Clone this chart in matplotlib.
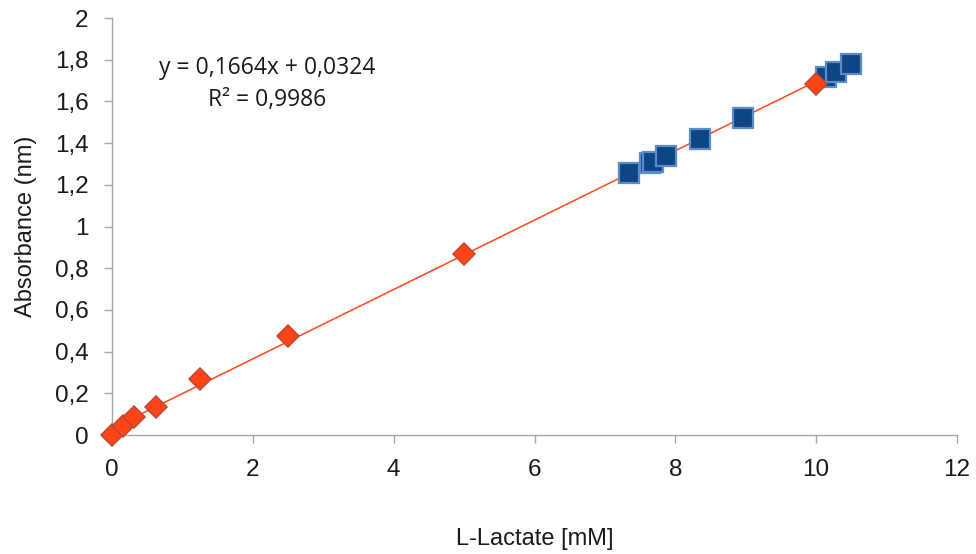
import matplotlib
matplotlib.use("Agg")
import matplotlib.pyplot as plt
from matplotlib.ticker import FuncFormatter
import numpy as np

# Standard curve (diamonds)
std_conc = [0, 0.156, 0.3125, 0.625, 1.25, 2.5, 5, 10]
std_abs = [0.0, 0.043, 0.086, 0.134, 0.268, 0.475, 0.868, 1.683]

# Samples (squares)
smp_conc = [7.34, 7.64, 7.68, 7.87, 8.35, 8.96, 10.14, 10.28, 10.49]
smp_abs = [1.257, 1.303, 1.309, 1.338, 1.420, 1.520, 1.717, 1.741, 1.779]

# Linear trendline of the standard curve
slope = 0.1664
intercept = 0.0324
r2 = 0.9986

x_ticks = [0, 2, 4, 6, 8, 10, 12]
y_ticks = [0, 0.2, 0.4, 0.6, 0.8, 1.0, 1.2, 1.4, 1.6, 1.8, 2.0]

plt.rcParams['font.family'] = ['Liberation Sans', 'DejaVu Sans']

fig = plt.figure(figsize=(9.76, 5.54), dpi=100)
ax = fig.add_axes([0.1148, 0.2148, 0.8657, 0.7527])

fit_x = np.array([min(std_conc), max(std_conc)])
ax.plot(fit_x, slope * fit_x + intercept, color='#ff4a1a', lw=1.1, zorder=2)

ax.plot(smp_conc, smp_abs, ls='none', marker='s', markersize=14,
        markerfacecolor='#0d4585', markeredgecolor='#5b8bc8', markeredgewidth=1.6,
        zorder=3, clip_on=False)
ax.plot(std_conc, std_abs, ls='none', marker='D', markersize=11.5,
        markerfacecolor='#ff4515', markeredgecolor='#c0463a', markeredgewidth=1.1,
        zorder=4, clip_on=False)

ax.set_xlim(0, 12)
ax.set_ylim(0, 2)
ax.set_xticks(x_ticks)
ax.set_yticks(y_ticks)
comma = FuncFormatter(lambda v, p: ('%g' % round(v, 2)).replace('.', ','))
ax.xaxis.set_major_formatter(comma)
ax.yaxis.set_major_formatter(comma)

for s in ['top', 'right']:
    ax.spines[s].set_visible(False)
for s in ['left', 'bottom']:
    ax.spines[s].set_color('#a6a6a6')
    ax.spines[s].set_linewidth(1.0)
ax.tick_params(axis='both', colors='#a6a6a6', labelcolor='#1a1a1a',
               labelsize=17.5, length=6, width=1.0, direction='out')
ax.tick_params(axis='x', pad=11)
ax.tick_params(axis='y', pad=11)

ax.set_xlabel('L-Lactate [mM]', fontsize=17, color='#1a1a1a', labelpad=34)
ax.set_ylabel('Absorbance (nm)', fontsize=17, color='#1a1a1a', labelpad=13)

fmt = lambda v: ('%.4f' % v).replace('.', ',')
ax.text(2.20, 1.760, 'y = %sx + %s' % (fmt(slope), fmt(intercept)), ha='center',
        va='center', fontsize=16.5, family=['Open Sans', 'DejaVu Sans'], color='#1a1a1a')
ax.text(2.20, 1.607, 'R² = %s' % fmt(r2), ha='center', va='center',
        fontsize=16.5, family=['Open Sans', 'DejaVu Sans'], color='#1a1a1a')

fig.savefig('out.png', dpi=100)
